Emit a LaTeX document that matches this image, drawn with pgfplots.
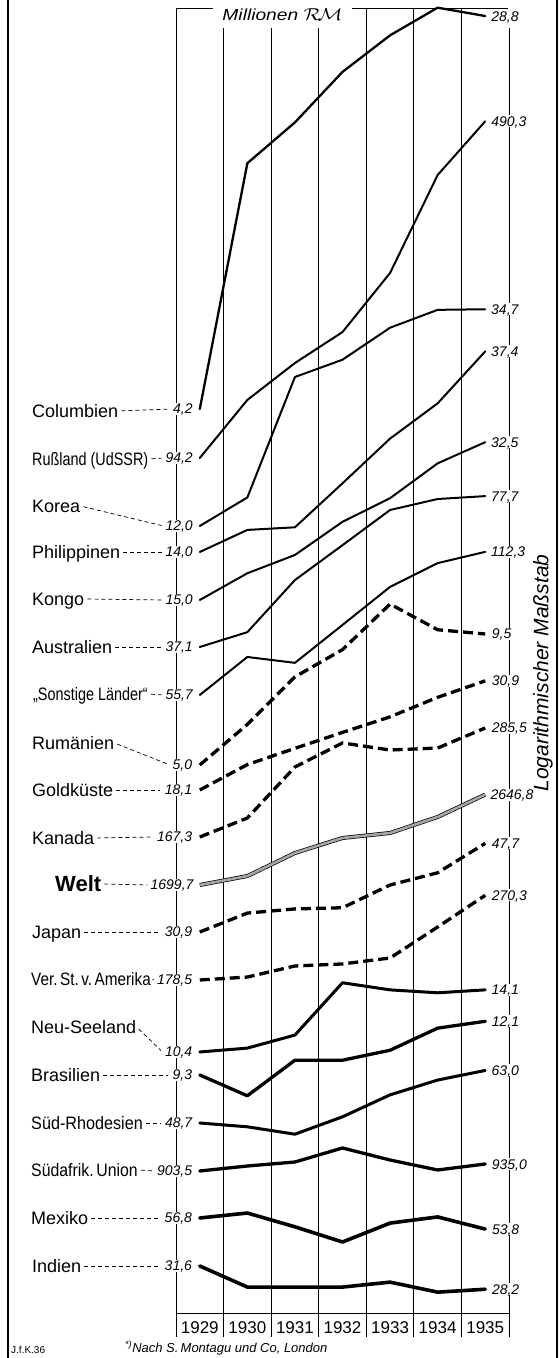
\documentclass[border=0pt]{standalone}
\usepackage{pgfplots}
\pgfplotsset{compat=1.18}
\usepackage{pgfplotstable}
\usepackage{graphicx}
\usepackage{fontspec}
\setmainfont{Liberation Sans}

\pgfplotstableread{
year Col Rus Kor Phi Kon Aus Son Rum Gol Kan Wel Jap USA Neu Bra Rho Saf Mex Ind
1929 4.2 94.2 12.0 14.0 15.0 37.1 55.7 5.0 18.1 167.3 1699.7 30.9 178.5 10.4 9.3 48.7 903.5 56.8 31.6
1930 14.0 125.2 13.8 15.6 17.1 39.9 67.1 6.1 20.5 183.6 1776 33.9 181.1 10.6 8.4 47.8 925.9 58.2 28.5
1931 17.1 150.0 24.9 15.8 18.7 51.5 65.2 7.7 22.2 235.7 1988 34.6 191.2 11.3 10.0 46.1 944.2 54.4 28.5
1932 21.9 174.6 27.1 19.6 22.0 61.1 78.5 8.8 24.0 265.2 2140 34.8 193.1 14.6 10.0 50.2 1011.3 50.5 28.5
1933 26.2 233.2 31.7 24.4 24.7 72.6 94.6 11.0 25.9 256.2 2193 38.9 198.8 14.1 10.5 55.9 953.5 55.4 29.2
1934 30.0 376.8 34.6 29.0 29.3 76.6 106.3 9.7 28.5 258.7 2372 41.3 231.4 13.9 11.7 60.1 908.0 57.1 27.8
1935 28.8 490.3 34.7 37.4 32.5 77.7 112.3 9.5 30.9 285.5 2646.8 47.7 270.3 14.1 12.1 63.0 935.0 53.8 28.2
}\gold

\tikzset{
  vlab/.style={font=\fontsize{14}{14}\selectfont\itshape, fill=white, inner sep=1pt, text height=10pt, text depth=0pt},
  nlab/.style={font=\fontsize{18}{18}\selectfont, anchor=west, inner sep=0pt, text height=13pt, text depth=0pt},
  lead/.style={line width=0.7pt, dash pattern=on 4pt off 3pt, shorten <=3pt, shorten >=2pt},
  gl/.style={line width=0.9pt},
  sA/.style={black, line width=2pt, line join=round, line cap=round},
  sB/.style={black, line width=3.3pt, line join=round, line cap=round},
  sD/.style={black, line width=3.3pt, dash pattern=on 10pt off 5pt, line join=round},
  sW/.style={draw=black, line width=0.7pt, double=black!35, double distance=2.6pt, line join=round},
}

% #1 column, #2 first value, #3 base height, #4 style, #5 left label, #6 right label
\newcommand{\ser}[6]{%
  \addplot[#4] table[x=year, y expr={470*log10(\thisrow{#1}/#2)+#3}] {\gold}
    node[pos=0, vlab, anchor=east, xshift=-5pt] (L#1) {#5}
    node[pos=1, vlab, anchor=west, xshift=4pt] {#6};
}

\begin{document}
\begin{tikzpicture}
\useasboundingbox (0,0) rectangle (559pt,1358pt);
\begin{axis}[
  at={(176pt,21pt)}, anchor=south west,
  scale only axis, width=333pt, height=1329pt,
  xmin=1928.5, xmax=1935.5, ymin=-24, ymax=1305,
  hide axis, clip=false,
]
% frame and grid
\draw[gl] (axis cs:1928.5,1305) -- (axis cs:1928.5,-24);
\draw[gl] (axis cs:1929.5,1285) -- (axis cs:1929.5,-24);
\draw[gl] (axis cs:1930.5,1285) -- (axis cs:1930.5,-24);
\draw[gl] (axis cs:1931.5,1285) -- (axis cs:1931.5,-24);
\draw[gl] (axis cs:1932.5,1305) -- (axis cs:1932.5,-24);
\draw[gl] (axis cs:1933.5,1305) -- (axis cs:1933.5,-24);
\draw[gl] (axis cs:1934.5,1305) -- (axis cs:1934.5,-24);
\draw[gl] (axis cs:1935.5,1285) -- (axis cs:1935.5,-24);
\draw[gl] (axis cs:1928.5,1305) -- (axis cs:1929.28,1305);
\draw[gl] (axis cs:1932.2,1305) -- (axis cs:1935.48,1305);
\draw[gl] (axis cs:1928.5,0) -- (axis cs:1935.5,0);
\node[font=\fontsize{16}{16}\selectfont\itshape] at (axis cs:1930.74,1298)
  {\scalebox{1.2}[1]{Millionen $\mathcal{R}\!\mathcal{M}$}};

\ser{Col}{4.2}{904}{sA, line width=2.3pt}{4,2}{28,8}
\ser{Rus}{94.2}{855}{sA}{94,2}{490,3}
\ser{Kor}{12.0}{787}{sA}{12,0}{34,7}
\ser{Phi}{14.0}{761}{sA}{14,0}{37,4}
\ser{Kon}{15.0}{713}{sA}{15,0}{32,5}
\ser{Aus}{37.1}{666}{sA}{37,1}{77,7}
\ser{Son}{55.7}{618}{sA}{55,7}{112,3}
\ser{Rum}{5.0}{548}{sD}{5,0}{9,5}
\ser{Gol}{18.1}{523}{sD}{18,1}{30,9}
\ser{Kan}{167.3}{476}{sD}{167,3}{285,5}
\ser{Wel}{1699.7}{428}{sW}{1699,7}{2646,8}
\ser{Jap}{30.9}{381}{sD}{30,9}{47,7}
\ser{USA}{178.5}{333}{sD}{178,5}{270,3}
\ser{Neu}{10.4}{261}{sB, line width=3pt}{10,4}{14,1}
\ser{Bra}{9.3}{238}{sB}{9,3}{12,1}
\ser{Rho}{48.7}{190}{sB, line width=3pt}{48,7}{63,0}
\ser{Saf}{903.5}{142}{sB}{903,5}{935,0}
\ser{Mex}{56.8}{95}{sB, line width=3.6pt}{56,8}{53,8}
\ser{Ind}{31.6}{47}{sB, line width=3.6pt}{31,6}{28,2}

\pgfplotsinvokeforeach{1929,1930,1931,1932,1933,1934,1935}{
  \node[font=\fontsize{17}{17}\selectfont, inner sep=0pt] at (axis cs:#1,-15) {#1};
}
\end{axis}

% country names
\node[nlab] (N1) at (32pt,947pt) {Columbien};
\node[nlab] (N2) at (32pt,899pt) {\scalebox{0.8}[1]{Rußland (UdSSR)}};
\node[nlab] (N3) at (32pt,852pt) {Korea};
\node[nlab] (N4) at (32pt,806pt) {Philippinen};
\node[nlab] (N5) at (32pt,759pt) {Kongo};
\node[nlab] (N6) at (32pt,711pt) {Australien};
\node[nlab] (N7) at (33pt,664pt) {\scalebox{0.8}[1]{„Sonstige Länder“}};
\node[nlab] (N8) at (32pt,615pt) {Rumänien};
\node[nlab] (N9) at (32pt,568pt) {Goldküste};
\node[nlab] (N10) at (32pt,520pt) {Kanada};
\node[nlab, font=\fontsize{22}{22}\selectfont\bfseries, text height=16pt] (N11) at (55pt,474pt) {Welt};
\node[nlab] (N12) at (32pt,426pt) {Japan};
\node[nlab] (N13) at (31pt,379pt) {\scalebox{0.85}[1]{Ver.\,St.\,v.\,Amerika}};
\node[nlab] (N14) at (31pt,331pt) {Neu-Seeland};
\node[nlab] (N15) at (31pt,283pt) {Brasilien};
\node[nlab] (N16) at (31pt,235pt) {\scalebox{0.9}[1]{Süd-Rhodesien}};
\node[nlab] (N17) at (31pt,188pt) {\scalebox{0.88}[1]{Südafrik.\,Union}};
\node[nlab] (N18) at (31pt,140pt) {Mexiko};
\node[nlab] (N19) at (32pt,92pt) {Indien};

\draw[lead] (N1.east) -- (LCol.west);
\draw[lead] (N2.east) -- (LRus.west);
\draw[lead] (N3.east) -- (LKor.west);
\draw[lead] (N4.east) -- (LPhi.west);
\draw[lead] (N5.east) -- (LKon.west);
\draw[lead] (N6.east) -- (LAus.west);
\draw[lead] (N7.east) -- (LSon.west);
\draw[lead] (N8.east) -- (LRum.west);
\draw[lead] (N9.east) -- (LGol.west);
\draw[lead] (N10.east) -- (LKan.west);
\draw[lead] (N11.east) -- (LWel.west);
\draw[lead] (N12.east) -- (LJap.west);
\draw[lead] (N13.east) -- (LUSA.west);
\draw[lead] (N14.east) -- (LNeu.west);
\draw[lead] (N15.east) -- (LBra.west);
\draw[lead] (N16.east) -- (LRho.west);
\draw[lead] (N17.east) -- (LSaf.west);
\draw[lead] (N18.east) -- (LMex.west);
\draw[lead] (N19.east) -- (LInd.west);

% right side scale note
\node[rotate=90, font=\fontsize{21}{21}\selectfont\itshape, inner sep=0pt] at (543pt,685pt) {Logarithmischer Maßstab};

% outer frame
\draw[line width=2pt] (8pt,0pt) -- (8pt,1358pt);
\draw[line width=2pt] (557pt,0pt) -- (557pt,1358pt);

% footer
\node[anchor=west, font=\fontsize{10}{10}\selectfont, inner sep=0pt] at (11pt,8pt) {J.f.K.36};
\node[anchor=west, font=\fontsize{13}{13}\selectfont\itshape, inner sep=0pt] at (125pt,10pt) {\textsuperscript{*)}Nach S.\,Montagu und Co, London};
\end{tikzpicture}
\end{document}
